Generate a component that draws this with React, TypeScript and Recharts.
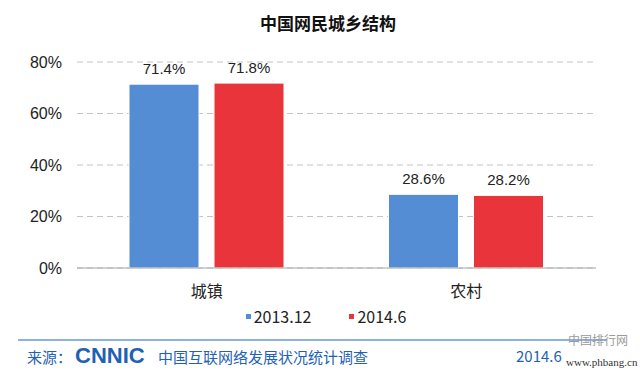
import { BarChart, Bar, XAxis, YAxis, CartesianGrid, Legend, LabelList } from 'recharts';

const categories = ['城镇', '农村'];
const dec2013 = [71.4, 28.6];
const jun2014 = [71.8, 28.2];
const yTicks = [0, 20, 40, 60, 80];

const BLUE = '#548DD4';
const RED = '#E8343A';

const data = categories.map((name, i) => ({ name, s1: dec2013[i], s2: jun2014[i] }));

const pct = (v: number) => `${v}%`;

function LegendContent() {
  const items = [
    { label: '2013.12', color: BLUE },
    { label: '2014.6', color: RED },
  ];
  return (
    <div style={{ display: 'flex', justifyContent: 'center', gap: 38, paddingLeft: 56, fontFamily: '"Noto Sans CJK SC", sans-serif', fontSize: 16, lineHeight: '20px', color: '#222' }}>
      {items.map((it) => (
        <div key={it.label} style={{ display: 'flex', alignItems: 'center', gap: 3 }}>
          <span style={{ width: 5, height: 5, background: it.color, display: 'inline-block' }} />
          <span>{it.label}</span>
        </div>
      ))}
    </div>
  );
}

export default function App() {
  return (
    <div style={{ position: 'absolute', left: 0, top: 0, width: 640, height: 370, background: '#fff', overflow: 'hidden' }}>
      <div
        style={{
          position: 'absolute',
          left: 0,
          top: 10,
          width: 656,
          textAlign: 'center',
          fontFamily: '"Noto Sans CJK SC", sans-serif',
          fontWeight: 700,
          fontSize: 17,
          color: '#111',
        }}
      >
        中国网民城乡结构
      </div>
      <BarChart
        width={640}
        height={360}
        data={data}
        margin={{ top: 62, right: 44, left: 0, bottom: 30 }}
        barCategoryGap={52}
        barGap={15}
      >
        <CartesianGrid vertical={false} stroke="#c4c4c4" strokeDasharray="6 4" />
        <XAxis
          dataKey="name"
          axisLine={{ stroke: '#a6a6a6' }}
          tickLine={false}
          height={42}
          tick={{ fontSize: 16, fill: '#222', fontFamily: '"Noto Sans CJK SC", sans-serif' }}
          tickMargin={12}
        />
        <YAxis
          width={77}
          domain={[0, 80]}
          ticks={yTicks}
          tickFormatter={pct}
          axisLine={false}
          tickLine={false}
          tickSize={0}
          tickMargin={15}
          tick={{ fontSize: 16, fill: '#222', fontFamily: '"Liberation Sans", Arial, sans-serif' }}
        />
        <Legend verticalAlign="bottom" content={<LegendContent />} wrapperStyle={{ top: 306, bottom: 'auto' }} />
        <Bar dataKey="s1" name="2013.12" fill={BLUE} stroke="#fff" strokeWidth={1} barSize={70} isAnimationActive={false}>
          <LabelList
            dataKey="s1"
            position="top"
            offset={10}
            formatter={(v: number) => `${v.toFixed(1)}%`}
            style={{ fontSize: 15, fill: '#222', fontFamily: '"Liberation Sans", Arial, sans-serif' }}
          />
        </Bar>
        <Bar dataKey="s2" name="2014.6" fill={RED} stroke="#fff" strokeWidth={1} barSize={70} isAnimationActive={false}>
          <LabelList
            dataKey="s2"
            position="top"
            offset={10}
            formatter={(v: number) => `${v.toFixed(1)}%`}
            style={{ fontSize: 15, fill: '#222', fontFamily: '"Liberation Sans", Arial, sans-serif' }}
          />
        </Bar>
      </BarChart>
      <div style={{ position: 'absolute', left: 18, top: 339, width: 588, height: 2, background: '#8DB3E2' }} />
      <div
        style={{
          position: 'absolute',
          left: 27,
          top: 345,
          display: 'flex',
          alignItems: 'center',
          fontFamily: '"Noto Sans CJK SC", sans-serif',
          fontSize: 15,
          color: '#1F62B4',
          whiteSpace: 'nowrap',
        }}
      >
        <span style={{ width: 48 }}>来源：</span>
        <span style={{ fontFamily: '"Liberation Sans", Arial, sans-serif', fontWeight: 900, fontSize: 22, lineHeight: '22px', width: 83 }}>CNNIC</span>
        <span>中国互联网络发展状况统计调查</span>
      </div>
      <div style={{ position: 'absolute', left: 516, top: 345, fontFamily: '"Noto Sans CJK SC", sans-serif', fontSize: 15, color: '#1F62B4' }}>
        2014.6
      </div>
      <div style={{ position: 'absolute', left: 568, top: 331, fontFamily: '"Noto Sans CJK SC", sans-serif', fontSize: 12, color: '#9a9a9a' }}>
        中国排行网
      </div>
      <div style={{ position: 'absolute', left: 566, top: 356, fontFamily: '"Liberation Serif", serif', fontSize: 11, color: '#333' }}>
        www.phbang.cn
      </div>
    </div>
  );
}
